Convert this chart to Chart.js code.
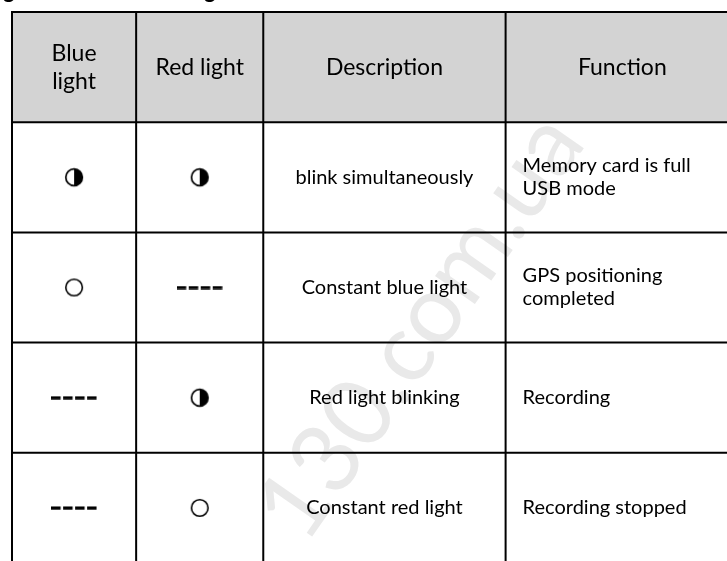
<!DOCTYPE html>
<html>
<head>
<meta charset="utf-8">
<script src="https://cdn.jsdelivr.net/npm/chart.js@4.4.0/dist/chart.umd.min.js"></script>
<style>
  html, body { margin: 0; padding: 0; background: #fff; overflow: hidden; }
  #wrap { width: 760px; height: 600px; }
</style>
</head>
<body>
<div id="wrap"><canvas id="tabel" width="760" height="600"></canvas></div>
<script>
// isi tabel
const headers = ["Blue\nlight", "Red light", "Description", "Function"];
const blueLight = ["blink", "on", "off", "off"];
const redLight = ["blink", "off", "blink", "on"];
const descriptions = ["blink simultaneously", "Constant blue light", "Red light blinking", "Constant red light"];
const functions = ["Memory card is full\nUSB mode", "GPS positioning\ncompleted", "Recording", "Recording stopped"];
const title = "Status light indicator meaning";
const watermark = "130.com.ua";

// layout kolom (lebar dalam satuan skala x)
const colWidths = [125, 128, 244, 235];
const colEdges = colWidths.reduce((a, w) => a.concat(a[a.length - 1] + w), [0]);
const colMid = c => (colEdges[c] + colEdges[c + 1]) / 2;
const rowCount = descriptions.length + 1;

// simbol lampu
function halfCircle() {
  const c = document.createElement("canvas"); c.width = 22; c.height = 22;
  const g = c.getContext("2d");
  g.beginPath(); g.arc(11, 11, 8.3, -Math.PI / 2, Math.PI / 2); g.closePath();
  g.fillStyle = "#000"; g.fill();
  g.beginPath(); g.arc(11, 11, 8.3, 0, Math.PI * 2);
  g.lineWidth = 1.7; g.strokeStyle = "#000"; g.stroke();
  return c;
}
function ring() {
  const c = document.createElement("canvas"); c.width = 22; c.height = 22;
  const g = c.getContext("2d");
  g.beginPath(); g.arc(11, 11, 8.3, 0, Math.PI * 2);
  g.lineWidth = 1.6; g.strokeStyle = "#000"; g.stroke();
  return c;
}
function dashes() {
  const c = document.createElement("canvas"); c.width = 46; c.height = 4;
  const g = c.getContext("2d");
  g.fillStyle = "#000";
  for (let i = 0; i < 4; i++) g.fillRect(i * 12, 0.5, 9.5, 3.2);
  return c;
}
const simbol = { blink: halfCircle(), on: ring(), off: dashes() };
const points = { blink: [], on: [], off: [] };
[blueLight, redLight].forEach((col, c) =>
  col.forEach((s, i) => points[s].push({ x: colMid(c), y: i + 1.5 })));

function drawLines(ctx, lines, x, y, lh) {
  const y0 = y - (lines.length - 1) * lh / 2;
  lines.forEach((t, i) => ctx.fillText(t, x, y0 + i * lh));
}

const tabelPlugin = {
  id: "tabel",
  beforeDatasetsDraw(chart) {
    const { ctx, scales: { x, y } } = chart;
    const X = v => x.getPixelForValue(v), Y = v => y.getPixelForValue(v);
    const right = X(colEdges[colEdges.length - 1]);
    ctx.save();

    // judul (terpotong di atas)
    ctx.font = "bold 22px Lato";
    ctx.fillStyle = "#000";
    ctx.textBaseline = "alphabetic";
    ctx.textAlign = "left";
    ctx.fillText(title, 3 - ctx.measureText("Status li").width, -2.5);

    // latar header
    ctx.fillStyle = "#d3d3d3";
    ctx.fillRect(X(0), Y(0), right - X(0), Y(1) - Y(0));

    // watermark
    ctx.save();
    ctx.translate(421, 327);
    ctx.rotate(-55 * Math.PI / 180);
    ctx.font = "96px Lato";
    ctx.fillStyle = "#e9e9e9";
    ctx.textAlign = "center";
    ctx.textBaseline = "middle";
    ctx.fillText(watermark, 0, 0);
    ctx.restore();

    // garis tabel
    ctx.strokeStyle = "#000";
    ctx.lineWidth = 2;
    ctx.beginPath();
    colEdges.forEach(v => { ctx.moveTo(X(v), Y(0) - 1); ctx.lineTo(X(v), Y(rowCount)); });
    for (let r = 0; r <= rowCount; r++) { ctx.moveTo(X(0) - 1, Y(r)); ctx.lineTo(right, Y(r)); }
    ctx.stroke();

    // teks header
    ctx.fillStyle = "#000";
    ctx.textBaseline = "middle";
    ctx.textAlign = "center";
    ctx.font = "23px Lato";
    headers.forEach((h, c) => drawLines(ctx, h.split("\n"), X(colMid(c)), Y(0.5), 28));

    // teks isi
    ctx.font = "20px Lato";
    descriptions.forEach((d, i) => drawLines(ctx, [d], X(colMid(2)), Y(i + 1.5), 23));
    ctx.textAlign = "left";
    functions.forEach((f, i) => drawLines(ctx, f.split("\n"), X(colEdges[3]) + 17, Y(i + 1.5), 23));
    ctx.restore();
  }
};

new Chart(document.getElementById("tabel"), {
  type: "scatter",
  data: {
    datasets: Object.keys(points).map(k => ({
      label: k,
      data: points[k],
      pointStyle: simbol[k],
      pointRadius: 11,
      pointHoverRadius: 11
    }))
  },
  options: {
    responsive: false,
    animation: false,
    devicePixelRatio: 1,
    layout: { padding: { left: 7, top: 6, right: 760 - 7 - colEdges[colEdges.length - 1], bottom: 600 - 6 - rowCount * 111.4 } },
    scales: {
      x: { type: "linear", min: 0, max: colEdges[colEdges.length - 1], display: false },
      y: { type: "linear", min: 0, max: rowCount, reverse: true, display: false }
    },
    plugins: { legend: { display: false }, tooltip: { enabled: false } },
    events: []
  },
  plugins: [tabelPlugin]
});
</script>
</body>
</html>
